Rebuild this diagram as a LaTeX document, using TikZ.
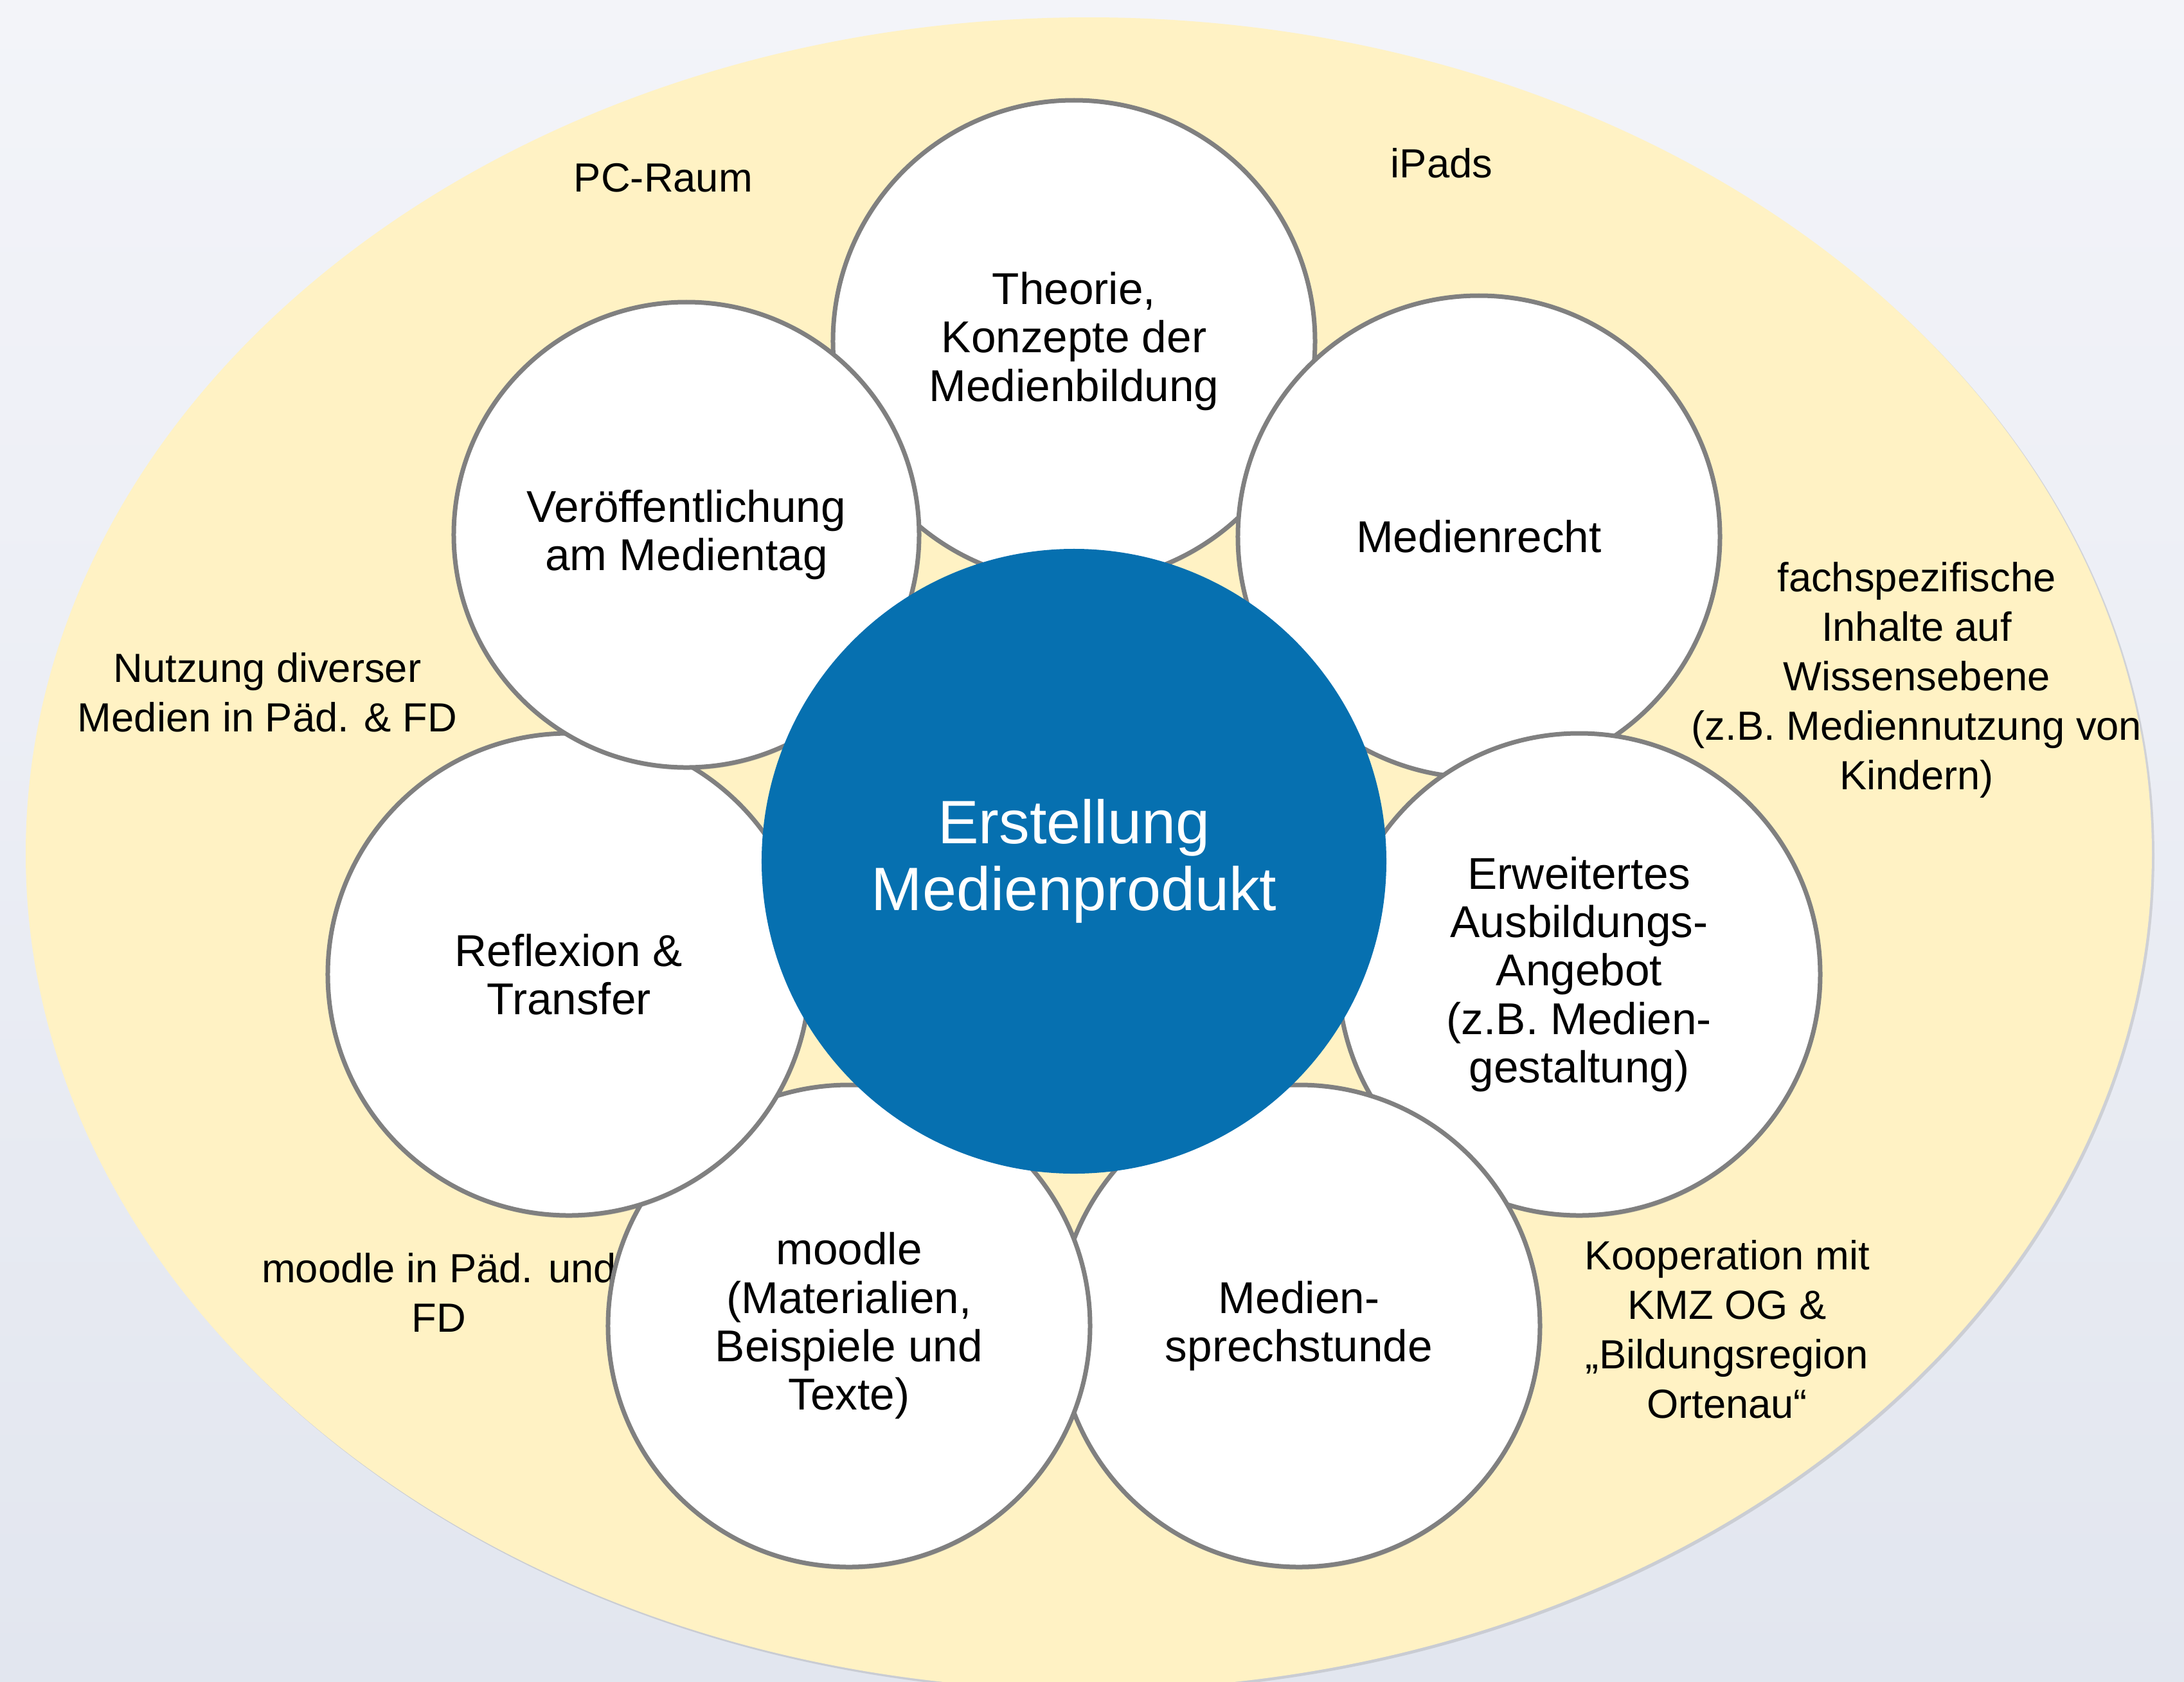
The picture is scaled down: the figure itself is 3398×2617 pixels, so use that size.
\documentclass[tikz,border=0pt]{standalone}
\usepackage{fontspec}
\setmainfont{Liberation Sans}
\usetikzlibrary{shadows}

\definecolor{hgoben}{RGB}{243,244,249}
\definecolor{hgunten}{RGB}{226,230,239}
\definecolor{feldgelb}{RGB}{255,242,196}
\definecolor{randgrau}{RGB}{128,128,128}
\definecolor{mitteblau}{RGB}{6,112,176}

\tikzset{every picture/.style={line width=0.75pt}}
\tikzset{
  kreis/.style={circle, draw=randgrau, line width=1.05pt, fill=white, minimum size=112.5pt, inner sep=0pt, align=center, font=\fontsize{10.4pt}{11.3pt}\selectfont, drop shadow={shadow xshift=0.15pt, shadow yshift=-0.6pt, opacity=0.35}},
  mitte/.style={circle, fill=mitteblau, minimum size=145.8pt, inner sep=0pt, align=center, text=white, font=\fontsize{14.3pt}{15.6pt}\selectfont},
  randtext/.style={align=center, inner sep=0pt, font=\fontsize{9.5pt}{11.55pt}\selectfont}
}

\begin{document}
\begin{tikzpicture}[x=0.15pt,y=0.15pt,yscale=-1,xscale=1]
\useasboundingbox (0,0) rectangle (3398,2617);

%Background
\shade [top color=hgoben, bottom color=hgunten] (0,0) rectangle (3398,2617);
%Shape: Ellipse
\fill [feldgelb, drop shadow={shadow xshift=0.6pt, shadow yshift=-0.6pt, opacity=0.25}] (1694,1328) ellipse [x radius=1654, y radius=1301];

% Text Node
\node (pcraum) [randtext] at (1032,277) {PC-Raum};
% Text Node
\node (ipads) [randtext] at (2243,254) {iPads};
% Text Node
\node (fach) [randtext] at (2982,1058) {fachspezifische\\Inhalte auf\\Wissensebene\\(z.B. Mediennutzung von\\Kindern)};
% Text Node
\node (nutzung) [randtext] at (416,1077) {Nutzung diverser\\Medien in Päd. \& FD};
% Text Node
\node (moodlefd) [randtext] at (683,2011) {moodle in Päd. und\\FD};
% Text Node
\node (koop) [randtext] at (2687,2068) {Kooperation mit\\KMZ OG \&\\„Bildungsregion\\Ortenau“};

%Shape: Circle
\node (theorie) [kreis] at (1671,531) {Theorie,\\Konzepte der\\Medienbildung};
%Shape: Circle
\node (recht) [kreis] at (2301,835) {Medienrecht};
%Shape: Circle
\node (angebot) [kreis] at (2457,1516) {Erweitertes\\Ausbildungs-\\Angebot\\(z.B. Medien-\\gestaltung)};
%Shape: Circle
\node (sprechstunde) [kreis] at (2021,2063) {Medien-\\sprechstunde};
%Shape: Circle
\node (moodle) [kreis] at (1321,2063) {moodle\\(Materialien,\\Beispiele und\\Texte)};
%Shape: Circle
\node (reflexion) [kreis] at (885,1516) {Reflexion \&\\Transfer};
%Shape: Circle
\node (medientag) [kreis, minimum size=108.6pt] at (1068,832) {Veröffentlichung\\am Medientag};
%Shape: Circle
\node (produkt) [mitte] at (1671,1340) {Erstellung\\Medienprodukt};

\end{tikzpicture}
\end{document}
